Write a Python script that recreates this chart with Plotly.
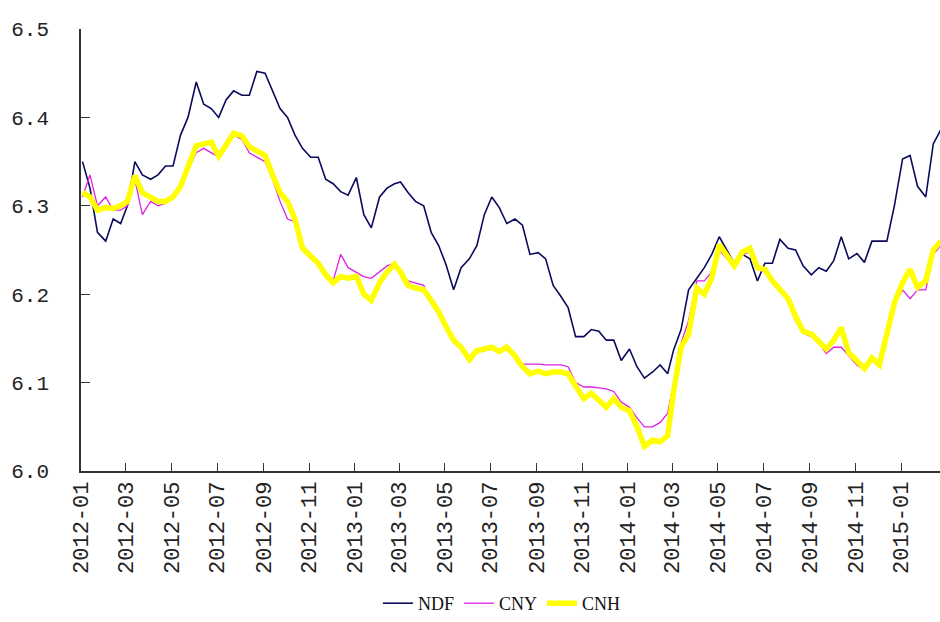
import plotly.graph_objects as go

# Dates: three observations per month, 2012-01 .. 2015-02
months = [f"{y}-{m:02d}" for y in (2012, 2013, 2014, 2015) for m in range(1, 13)][:38]
days = ["03", "13", "23"]
dates = [f"{mo}-{d}" for mo in months for d in days]

ndf = [
    6.350, 6.320, 6.270,  6.260, 6.285, 6.280,  6.300, 6.350, 6.335,
    6.330, 6.335, 6.345,  6.345, 6.380, 6.400,  6.440, 6.415, 6.410,
    6.400, 6.420, 6.430,  6.425, 6.425, 6.452,  6.450, 6.430, 6.410,
    6.400, 6.380, 6.365,  6.355, 6.355, 6.330,  6.325, 6.316, 6.312,
    6.332, 6.290, 6.275,  6.310, 6.320, 6.325,  6.327, 6.315, 6.305,
    6.300, 6.270, 6.255,  6.233, 6.205, 6.230,  6.240, 6.255, 6.290,
    6.310, 6.298, 6.280,  6.285, 6.278, 6.245,  6.247, 6.240, 6.210,
    6.198, 6.185, 6.152,  6.152, 6.160, 6.158,  6.148, 6.148, 6.125,
    6.138, 6.118, 6.105,  6.112, 6.120, 6.110,  6.137, 6.160, 6.205,
    6.218, 6.230, 6.245,  6.265, 6.250, 6.235,  6.245, 6.240, 6.215,
    6.235, 6.235, 6.262,  6.252, 6.250, 6.232,  6.222, 6.230, 6.226,
    6.238, 6.265, 6.240,  6.246, 6.236, 6.260,  6.260, 6.260, 6.300,
    6.353, 6.357, 6.322,  6.310, 6.370, 6.386,
]

cny = [
    6.310, 6.335, 6.300,  6.310, 6.295, 6.295,  6.300, 6.330, 6.290,
    6.305, 6.300, 6.303,  6.310, 6.320, 6.340,  6.360, 6.365, 6.360,
    6.355, 6.365, 6.380,  6.375, 6.360, 6.355,  6.350, 6.330, 6.305,
    6.285, 6.282, 6.250,  6.240, 6.235, 6.222,  6.215, 6.245, 6.230,
    6.225, 6.220, 6.218,  6.225, 6.232, 6.235,  6.225, 6.215, 6.213,
    6.210, 6.190, 6.178,  6.160, 6.145, 6.138,  6.130, 6.136, 6.136,
    6.138, 6.135, 6.137,  6.130, 6.121, 6.121,  6.121, 6.120, 6.120,
    6.120, 6.118, 6.100,  6.095, 6.095, 6.094,  6.093, 6.090, 6.078,
    6.072, 6.060, 6.050,  6.050, 6.055, 6.065,  6.100, 6.145, 6.170,
    6.215, 6.215, 6.225,  6.250, 6.240, 6.235,  6.245, 6.248, 6.228,
    6.225, 6.212, 6.203,  6.192, 6.170, 6.156,  6.152, 6.145, 6.133,
    6.140, 6.140, 6.130,  6.120, 6.114, 6.125,  6.118, 6.150, 6.188,
    6.205, 6.195, 6.205,  6.205, 6.245, 6.255,
]

cnh = [
    6.315, 6.310, 6.295,  6.298, 6.297, 6.300,  6.305, 6.334, 6.315,
    6.310, 6.305, 6.305,  6.310, 6.322, 6.345,  6.368, 6.370, 6.372,
    6.356, 6.368, 6.382,  6.379, 6.367, 6.362,  6.357, 6.335, 6.315,
    6.305, 6.285, 6.252,  6.243, 6.235, 6.222,  6.213, 6.220, 6.218,
    6.220, 6.200, 6.193,  6.213, 6.225, 6.234,  6.225, 6.210, 6.207,
    6.205, 6.193, 6.180,  6.163, 6.148, 6.140,  6.126, 6.136, 6.138,
    6.140, 6.135, 6.140,  6.130, 6.118, 6.110,  6.113, 6.110, 6.112,
    6.112, 6.110, 6.096,  6.082, 6.088, 6.080,  6.072, 6.082, 6.072,
    6.068, 6.050, 6.028,  6.035, 6.033, 6.040,  6.090, 6.140, 6.155,
    6.207, 6.200, 6.218,  6.256, 6.245, 6.232,  6.248, 6.252, 6.230,
    6.228, 6.215, 6.205,  6.195, 6.175, 6.158,  6.155, 6.147, 6.138,
    6.148, 6.162, 6.134,  6.125, 6.116, 6.128,  6.120, 6.155, 6.190,
    6.213, 6.228, 6.208,  6.215, 6.250, 6.260,
]

n = len(ndf)
x = dates[:n]

fig = go.Figure()
fig.add_trace(go.Scatter(x=x, y=ndf, name="NDF", mode="lines",
                         line=dict(color="#0b0b5e", width=1.6)))
fig.add_trace(go.Scatter(x=x, y=cny, name="CNY", mode="lines",
                         line=dict(color="#e020e0", width=1.3)))
fig.add_trace(go.Scatter(x=x, y=cnh, name="CNH", mode="lines",
                         line=dict(color="#ffff00", width=5.5)))

x_font = dict(family="Liberation Mono", size=22, color="#222")
y_font = dict(family="Liberation Mono", size=21, color="#222")

fig.update_layout(
    width=940, height=622,
    margin=dict(l=81, r=0, t=29, b=147),
    paper_bgcolor="white", plot_bgcolor="white",
    showlegend=True,
    legend=dict(orientation="h", x=0.49, xanchor="center", y=-0.30, yanchor="middle",
                font=dict(family="Liberation Serif", size=18, color="#111"),
                itemwidth=30, tracegroupgap=0),
)
fig.update_xaxes(
    type="date", range=["2012-01-01", "2015-02-22"],
    tick0="2012-01-01", dtick="M2", tickformat="%Y-%m",
    tickangle=-90, ticks="inside", ticklen=8, tickcolor="#333",
    showline=True, linecolor="#333", linewidth=1.5,
    showgrid=False, zeroline=False, tickfont=x_font,
)
fig.update_yaxes(
    range=[6.0, 6.5], tick0=6.0, dtick=0.1, tickformat=".1f",
    ticks="inside", ticklen=9, tickcolor="#333",
    showline=True, linecolor="#333", linewidth=1.5,
    showgrid=False, zeroline=False, tickfont=y_font,
    ticklabelstandoff=26,
)

fig.write_html("out.html")
